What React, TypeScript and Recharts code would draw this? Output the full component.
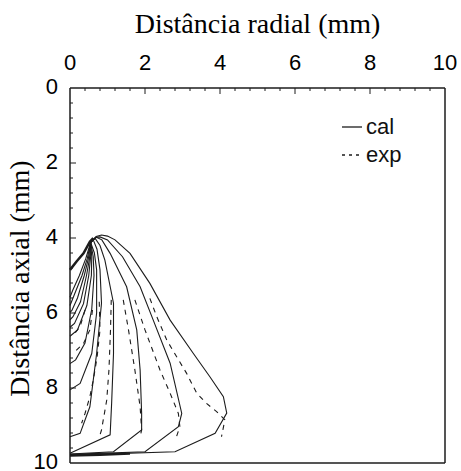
import { LineChart, Line, XAxis, YAxis, ReferenceLine, Legend } from 'recharts';

type Pt = [number, number];

// axis ticks
const radialTicks = [0, 2, 4, 6, 8, 10];
const axialTicks = [0, 2, 4, 6, 8, 10];
const majorMarks = [2, 4, 6, 8];
const minorMarks = [0.4, 0.8, 1.2, 1.6, 2.4, 2.8, 3.2, 3.6, 4.4, 4.8, 5.2, 5.6, 6.4, 6.8, 7.2, 7.6, 8.4, 8.8, 9.2, 9.6];

// calculated contours (radial, axial) in mm
const calSeed: Pt[] = [[0, 4.85], [0.18, 4.62], [0.36, 4.41], [0.53, 4.1], [0.62, 4.0]];
const calBase: Pt[] = [[0, 9.8], [0.8, 9.78], [1.6, 9.75]];
const calI8: Pt[] = [[0.55, 4.12], [0.42, 4.55], [0.25, 5.0], [0.07, 5.4], [0, 5.58]];
const calI7: Pt[] = [[0.55, 4.12], [0.46, 4.55], [0.32, 5.0], [0.12, 5.5], [0, 5.8]];
const calI6: Pt[] = [[0.55, 4.12], [0.49, 4.55], [0.38, 5.0], [0.2, 5.6], [0.05, 5.93], [0, 5.98]];
const calI5: Pt[] = [[0.55, 4.12], [0.52, 4.55], [0.44, 5.0], [0.28, 5.7], [0.08, 6.1], [0, 6.18]];
const calI4: Pt[] = [[0.55, 4.12], [0.55, 4.5], [0.5, 5.0], [0.36, 5.75], [0.12, 6.28], [0, 6.38]];
const calI3: Pt[] = [[0.55, 4.12], [0.58, 4.5], [0.57, 5.0], [0.45, 5.8], [0.2, 6.45], [0, 6.62]];
const calI2: Pt[] = [[0.55, 4.12], [0.62, 4.5], [0.64, 5.0], [0.58, 5.9], [0.4, 6.8], [0.15, 7.25], [0, 7.35]];
const calI1: Pt[] = [[0.55, 4.12], [0.65, 4.4], [0.71, 4.85], [0.71, 6.0], [0.58, 7.08], [0.27, 7.88], [0, 8.05]];
const calA: Pt[] = [[0.55, 4.12], [0.62, 4.05], [0.72, 4.3], [0.8, 4.85], [0.84, 5.74], [0.71, 7.08], [0.53, 8.5], [0.27, 9.21], [0, 9.3]];
const calB: Pt[] = [[0.55, 4.12], [0.67, 4.01], [0.8, 4.2], [0.93, 4.59], [1.16, 5.74], [1.16, 7.08], [1.11, 8.41], [1.07, 9.25], [0, 9.74]];
const calC: Pt[] = [[0.55, 4.12], [0.7, 3.98], [0.85, 4.05], [1.07, 4.41], [1.51, 5.3], [1.78, 6.45], [1.87, 7.52], [1.91, 8.67], [1.91, 9.12], [1.16, 9.7], [0, 9.76]];
const calD: Pt[] = [[0.55, 4.12], [0.68, 3.98], [0.8, 3.97], [1.0, 4.05], [1.4, 4.5], [1.87, 5.3], [2.22, 6.19], [2.67, 7.34], [2.98, 8.68], [2.89, 9.03], [2.0, 9.7], [0, 9.77]];
const calE: Pt[] = [[0.55, 4.12], [0.7, 3.96], [0.84, 3.92], [1.0, 3.95], [1.2, 4.05], [1.6, 4.41], [2.13, 5.21], [2.67, 6.19], [3.29, 7.08], [3.73, 7.7], [4.09, 8.23], [4.18, 8.67], [3.87, 9.21], [2.8, 9.7], [0, 9.79]];

// measured contours
const expI2: Pt[] = [[0.4, 5.92], [0.27, 6.36], [0.09, 6.59]];
const expI1: Pt[] = [[0.6, 5.92], [0.53, 6.45], [0.36, 6.81], [0.13, 7.03]];
const expA: Pt[] = [[0.78, 5.7], [0.8, 6.45], [0.72, 7.2], [0.62, 7.79], [0.53, 8.23], [0.4, 8.68], [0.31, 8.94]];
const expB: Pt[] = [[1.1, 5.65], [1.08, 6.45], [1.04, 7.5], [0.98, 8.32], [0.84, 9.12], [0.8, 9.25]];
const expC: Pt[] = [[1.42, 5.65], [1.56, 6.45], [1.73, 7.52], [1.87, 8.5], [1.91, 9.12], [1.87, 9.3]];
const expD: Pt[] = [[1.73, 5.65], [2.0, 6.45], [2.4, 7.52], [2.67, 8.14], [2.89, 8.68], [2.93, 9.03], [2.84, 9.3]];
const expE: Pt[] = [[2.13, 5.61], [2.31, 6.09], [2.58, 6.72], [2.84, 7.16], [3.11, 7.61], [3.38, 8.14], [3.64, 8.41], [3.91, 8.63], [4.13, 8.85], [4.04, 9.3]];

const calCurves = [calI8, calI7, calI6, calI5, calI4, calI3, calI2, calI1, calA, calB, calC, calD, calE];
const expCurves = [expI2, expI1, expA, expB, expC, expD, expE];

const legendItems = [
  { name: 'cal', dash: undefined },
  { name: 'exp', dash: '3 4' },
];

const toRows = (pts: Pt[]) => pts.map(([x, y]) => ({ x, y }));

const INK = '#1c1c1c';
const sans = '"Liberation Sans", Arial, sans-serif';
const serif = '"Liberation Serif", "Times New Roman", serif';
// inward tick lengths, in axis units (about 6px and 3px)
const MAJOR_LEN = 0.16;
const MINOR_LEN = 0.08;

const XTitle = ({ viewBox }: any) => (
  <text
    x={viewBox.x + viewBox.width / 2}
    y={viewBox.y + 33}
    textAnchor="middle"
    fontFamily={serif}
    fontSize={28}
    fill="#000"
  >
    Distância radial (mm)
  </text>
);

const YTitle = ({ viewBox }: any) => {
  const cx = viewBox.x + 29;
  const cy = viewBox.y + viewBox.height / 2 + 3;
  return (
    <text
      x={cx}
      y={cy}
      transform={`rotate(-90 ${cx} ${cy})`}
      textAnchor="middle"
      fontFamily={serif}
      fontSize={28}
      fill="#000"
    >
      Distância axial (mm)
    </text>
  );
};

const LegendBox = () => (
  <div style={{ fontFamily: sans, fontSize: 22, color: '#111', lineHeight: '28px' }}>
    {legendItems.map((item) => (
      <div key={item.name} style={{ display: 'flex', alignItems: 'center' }}>
        <svg width={24} height={10} style={{ marginRight: 2 }}>
          <line x1={2} y1={5} x2={22} y2={5} stroke={INK} strokeWidth={1.3} strokeDasharray={item.dash} />
        </svg>
        <span>{item.name}</span>
      </div>
    ))}
  </div>
);

const tickMarks = [
  ...majorMarks.map((v) => ({ v, len: MAJOR_LEN })),
  ...minorMarks.map((v) => ({ v, len: MINOR_LEN })),
];

const App = () => {
  return (
    <div style={{ position: 'absolute', left: 0, top: 0, background: '#fff' }}>
      <LineChart width={461} height={471} margin={{ top: 0, right: 16, bottom: 8, left: 0 }}>
        <XAxis
          type="number"
          dataKey="x"
          orientation="top"
          domain={[0, 10]}
          ticks={radialTicks}
          interval={0}
          height={88}
          tickLine={false}
          tickSize={0}
          tickMargin={18}
          axisLine={{ stroke: INK, strokeWidth: 1.5 }}
          tick={{ fill: '#000', fontSize: 22, fontFamily: sans }}
          label={<XTitle />}
        />
        <YAxis
          type="number"
          reversed
          domain={[0, 10]}
          ticks={axialTicks}
          interval={0}
          width={70}
          tickLine={false}
          tickSize={0}
          tickMargin={12}
          axisLine={{ stroke: INK, strokeWidth: 1.5 }}
          tick={{ fill: '#000', fontSize: 22, fontFamily: sans, dy: -2 }}
          label={<YTitle />}
        />
        <ReferenceLine x={10} stroke={INK} strokeWidth={1.5} />
        <ReferenceLine y={10} stroke={INK} strokeWidth={1.5} />
        {tickMarks.map(({ v, len }) => (
          <ReferenceLine
            key={`tx-${v}`}
            segment={[{ x: v, y: 0 }, { x: v, y: len }]}
            stroke={INK}
            strokeWidth={1}
            ifOverflow="visible"
          />
        ))}
        {tickMarks.map(({ v, len }) => (
          <ReferenceLine
            key={`ty-${v}`}
            segment={[{ x: 0, y: v }, { x: len, y: v }]}
            stroke={INK}
            strokeWidth={1}
            ifOverflow="visible"
          />
        ))}
        <Legend
          layout="horizontal"
          verticalAlign="middle"
          align="center"
          content={<LegendBox />}
          wrapperStyle={{ top: 113, left: 340, width: 90 }}
        />
        <Line
          data={toRows(calSeed)}
          dataKey="y"
          stroke={INK}
          strokeWidth={2.5}
          dot={false}
          activeDot={false}
          isAnimationActive={false}
          legendType="none"
        />
        <Line
          data={toRows(calBase)}
          dataKey="y"
          stroke={INK}
          strokeWidth={2.5}
          dot={false}
          activeDot={false}
          isAnimationActive={false}
          legendType="none"
        />
        {calCurves.map((pts, i) => (
          <Line
            key={`cal-${i}`}
            data={toRows(pts)}
            dataKey="y"
            type="linear"
            stroke={INK}
            strokeWidth={1.1}
            dot={false}
            activeDot={false}
            isAnimationActive={false}
            legendType="none"
          />
        ))}
        {expCurves.map((pts, i) => (
          <Line
            key={`exp-${i}`}
            data={toRows(pts)}
            dataKey="y"
            type="linear"
            stroke={INK}
            strokeWidth={1.1}
            strokeDasharray="5 5"
            dot={false}
            activeDot={false}
            isAnimationActive={false}
            legendType="none"
          />
        ))}
      </LineChart>
    </div>
  );
};

export default App;
